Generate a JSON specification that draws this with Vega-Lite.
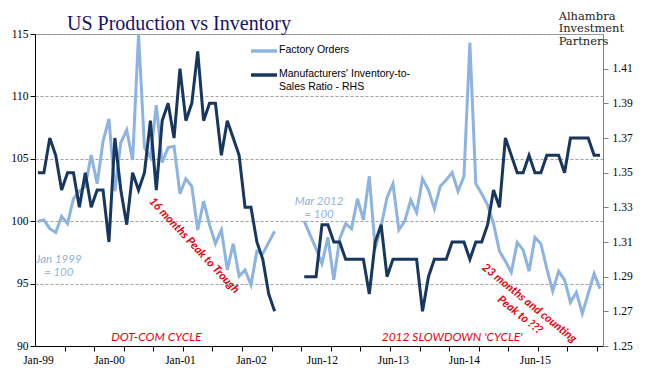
{
  "$schema": "https://vega.github.io/schema/vega-lite/v6.json",
  "width": 568,
  "height": 312,
  "autosize": "none",
  "padding": {"left": 35, "top": 34, "right": 46, "bottom": 46},
  "background": "white",
  "title": {"text": "US Production vs Inventory", "anchor": "start", "frame": "group", "dx": 32, "dy": 45, "offset": 6, "baseline": "alphabetic", "font": "Liberation Serif", "fontSize": 20, "fontWeight": "normal", "color": "#13136B"},
  "config": {"view": {"stroke": "#8c8c8c", "strokeWidth": 1}},
  "datasets": {
    "main": [
      {"m": "Jan-99", "cycle": "dotcom", "orders": 100.0, "ratio": 1.35},
      {"m": "Feb-99", "cycle": "dotcom", "orders": 100.1, "ratio": 1.35},
      {"m": "Mar-99", "cycle": "dotcom", "orders": 99.4, "ratio": 1.37},
      {"m": "Apr-99", "cycle": "dotcom", "orders": 99.1, "ratio": 1.36},
      {"m": "May-99", "cycle": "dotcom", "orders": 100.4, "ratio": 1.34},
      {"m": "Jun-99", "cycle": "dotcom", "orders": 99.8, "ratio": 1.35},
      {"m": "Jul-99", "cycle": "dotcom", "orders": 101.8, "ratio": 1.35},
      {"m": "Aug-99", "cycle": "dotcom", "orders": 102.4, "ratio": 1.33},
      {"m": "Sep-99", "cycle": "dotcom", "orders": 102.8, "ratio": 1.35},
      {"m": "Oct-99", "cycle": "dotcom", "orders": 105.3, "ratio": 1.33},
      {"m": "Nov-99", "cycle": "dotcom", "orders": 103.0, "ratio": 1.34},
      {"m": "Dec-99", "cycle": "dotcom", "orders": 106.4, "ratio": 1.34},
      {"m": "Jan-00", "cycle": "dotcom", "orders": 108.2, "ratio": 1.31},
      {"m": "Feb-00", "cycle": "dotcom", "orders": 102.4, "ratio": 1.37},
      {"m": "Mar-00", "cycle": "dotcom", "orders": 106.3, "ratio": 1.34},
      {"m": "Apr-00", "cycle": "dotcom", "orders": 107.3, "ratio": 1.32},
      {"m": "May-00", "cycle": "dotcom", "orders": 104.9, "ratio": 1.35},
      {"m": "Jun-00", "cycle": "dotcom", "orders": 115.0, "ratio": 1.34},
      {"m": "Jul-00", "cycle": "dotcom", "orders": 105.9, "ratio": 1.35},
      {"m": "Aug-00", "cycle": "dotcom", "orders": 105.1, "ratio": 1.38},
      {"m": "Sep-00", "cycle": "dotcom", "orders": 109.3, "ratio": 1.34},
      {"m": "Oct-00", "cycle": "dotcom", "orders": 104.7, "ratio": 1.38},
      {"m": "Nov-00", "cycle": "dotcom", "orders": 105.9, "ratio": 1.39},
      {"m": "Dec-00", "cycle": "dotcom", "orders": 106.0, "ratio": 1.37},
      {"m": "Jan-01", "cycle": "dotcom", "orders": 102.2, "ratio": 1.41},
      {"m": "Feb-01", "cycle": "dotcom", "orders": 103.4, "ratio": 1.38},
      {"m": "Mar-01", "cycle": "dotcom", "orders": 102.8, "ratio": 1.39},
      {"m": "Apr-01", "cycle": "dotcom", "orders": 99.3, "ratio": 1.42},
      {"m": "May-01", "cycle": "dotcom", "orders": 101.6, "ratio": 1.38},
      {"m": "Jun-01", "cycle": "dotcom", "orders": 99.7, "ratio": 1.39},
      {"m": "Jul-01", "cycle": "dotcom", "orders": 98.2, "ratio": 1.39},
      {"m": "Aug-01", "cycle": "dotcom", "orders": 99.3, "ratio": 1.36},
      {"m": "Sep-01", "cycle": "dotcom", "orders": 96.1, "ratio": 1.38},
      {"m": "Oct-01", "cycle": "dotcom", "orders": 98.2, "ratio": 1.37},
      {"m": "Nov-01", "cycle": "dotcom", "orders": 95.6, "ratio": 1.36},
      {"m": "Dec-01", "cycle": "dotcom", "orders": 96.1, "ratio": 1.33},
      {"m": "Jan-02", "cycle": "dotcom", "orders": 94.9, "ratio": 1.33},
      {"m": "Feb-02", "cycle": "dotcom", "orders": 97.6, "ratio": 1.31},
      {"m": "Mar-02", "cycle": "dotcom", "orders": 97.4, "ratio": 1.30},
      {"m": "Apr-02", "cycle": "dotcom", "orders": 98.3, "ratio": 1.28},
      {"m": "May-02", "cycle": "dotcom", "orders": 99.2, "ratio": 1.27},
      {"m": "Mar-12", "cycle": "slowdown", "orders": 100.0, "ratio": 1.29},
      {"m": "Apr-12", "cycle": "slowdown", "orders": 98.9, "ratio": 1.29},
      {"m": "May-12", "cycle": "slowdown", "orders": 97.8, "ratio": 1.29},
      {"m": "Jun-12", "cycle": "slowdown", "orders": 96.6, "ratio": 1.32},
      {"m": "Jul-12", "cycle": "slowdown", "orders": 98.7, "ratio": 1.32},
      {"m": "Aug-12", "cycle": "slowdown", "orders": 95.3, "ratio": 1.31},
      {"m": "Sep-12", "cycle": "slowdown", "orders": 98.6, "ratio": 1.31},
      {"m": "Oct-12", "cycle": "slowdown", "orders": 99.8, "ratio": 1.30},
      {"m": "Nov-12", "cycle": "slowdown", "orders": 99.4, "ratio": 1.30},
      {"m": "Dec-12", "cycle": "slowdown", "orders": 101.8, "ratio": 1.30},
      {"m": "Jan-13", "cycle": "slowdown", "orders": 100.1, "ratio": 1.30},
      {"m": "Feb-13", "cycle": "slowdown", "orders": 103.6, "ratio": 1.28},
      {"m": "Mar-13", "cycle": "slowdown", "orders": 97.8, "ratio": 1.31},
      {"m": "Apr-13", "cycle": "slowdown", "orders": 99.6, "ratio": 1.32},
      {"m": "May-13", "cycle": "slowdown", "orders": 101.9, "ratio": 1.29},
      {"m": "Jun-13", "cycle": "slowdown", "orders": 103.0, "ratio": 1.30},
      {"m": "Jul-13", "cycle": "slowdown", "orders": 99.3, "ratio": 1.30},
      {"m": "Aug-13", "cycle": "slowdown", "orders": 100.0, "ratio": 1.30},
      {"m": "Sep-13", "cycle": "slowdown", "orders": 101.7, "ratio": 1.30},
      {"m": "Oct-13", "cycle": "slowdown", "orders": 100.7, "ratio": 1.30},
      {"m": "Nov-13", "cycle": "slowdown", "orders": 103.4, "ratio": 1.27},
      {"m": "Dec-13", "cycle": "slowdown", "orders": 102.5, "ratio": 1.29},
      {"m": "Jan-14", "cycle": "slowdown", "orders": 101.0, "ratio": 1.30},
      {"m": "Feb-14", "cycle": "slowdown", "orders": 102.8, "ratio": 1.30},
      {"m": "Mar-14", "cycle": "slowdown", "orders": 103.3, "ratio": 1.30},
      {"m": "Apr-14", "cycle": "slowdown", "orders": 103.9, "ratio": 1.31},
      {"m": "May-14", "cycle": "slowdown", "orders": 102.4, "ratio": 1.31},
      {"m": "Jun-14", "cycle": "slowdown", "orders": 103.6, "ratio": 1.31},
      {"m": "Jul-14", "cycle": "slowdown", "orders": 114.3, "ratio": 1.30},
      {"m": "Aug-14", "cycle": "slowdown", "orders": 103.0, "ratio": 1.31},
      {"m": "Sep-14", "cycle": "slowdown", "orders": 102.2, "ratio": 1.31},
      {"m": "Oct-14", "cycle": "slowdown", "orders": 101.3, "ratio": 1.32},
      {"m": "Nov-14", "cycle": "slowdown", "orders": 99.8, "ratio": 1.34},
      {"m": "Dec-14", "cycle": "slowdown", "orders": 97.6, "ratio": 1.33},
      {"m": "Jan-15", "cycle": "slowdown", "orders": 96.8, "ratio": 1.37},
      {"m": "Feb-15", "cycle": "slowdown", "orders": 95.9, "ratio": 1.36},
      {"m": "Mar-15", "cycle": "slowdown", "orders": 98.3, "ratio": 1.35},
      {"m": "Apr-15", "cycle": "slowdown", "orders": 97.7, "ratio": 1.35},
      {"m": "May-15", "cycle": "slowdown", "orders": 96.0, "ratio": 1.36},
      {"m": "Jun-15", "cycle": "slowdown", "orders": 98.7, "ratio": 1.35},
      {"m": "Jul-15", "cycle": "slowdown", "orders": 98.2, "ratio": 1.35},
      {"m": "Aug-15", "cycle": "slowdown", "orders": 96.2, "ratio": 1.36},
      {"m": "Sep-15", "cycle": "slowdown", "orders": 94.4, "ratio": 1.36},
      {"m": "Oct-15", "cycle": "slowdown", "orders": 96.0, "ratio": 1.36},
      {"m": "Nov-15", "cycle": "slowdown", "orders": 95.3, "ratio": 1.35},
      {"m": "Dec-15", "cycle": "slowdown", "orders": 93.5, "ratio": 1.37},
      {"m": "Jan-16", "cycle": "slowdown", "orders": 94.3, "ratio": 1.37},
      {"m": "Feb-16", "cycle": "slowdown", "orders": 92.6, "ratio": 1.37},
      {"m": "Mar-16", "cycle": "slowdown", "orders": 94.2, "ratio": 1.37},
      {"m": "Apr-16", "cycle": "slowdown", "orders": 95.8, "ratio": 1.36},
      {"m": "May-16", "cycle": "slowdown", "orders": 94.6, "ratio": 1.36}
    ],
    "notes": [
      {"m": "Apr-99", "v": 96.9, "text": "Jan 1999\n= 100", "kind": "blue"},
      {"m": "May-12", "v": 101.5, "text": "Mar 2012\n= 100", "kind": "blue"},
      {"m": "Sep-00", "v": 90.7, "text": "DOT-COM CYCLE", "kind": "cycle"},
      {"m": "Apr-14", "v": 90.75, "text": "2012 SLOWDOWN 'CYCLE'", "kind": "cycle"},
      {"m": "Mar-01", "v": 98.2, "text": "16 months Peak to Trough", "kind": "drop1"},
      {"m": "May-15", "v": 93.4, "text": "23 months and counting\nPeak to ???", "kind": "drop2"},
      {"m": "Oct-15", "v": 116.85, "text": "Alhambra\nInvestment\nPartners", "kind": "logo"}
    ]
  },
  "encoding": {
    "x": {
      "field": "m",
      "type": "ordinal",
      "sort": null,
      "title": null,
      "scale": {
        "type": "point",
        "padding": 0.5,
        "domain": ["Jan-99","Feb-99","Mar-99","Apr-99","May-99","Jun-99","Jul-99","Aug-99","Sep-99","Oct-99","Nov-99","Dec-99",
                   "Jan-00","Feb-00","Mar-00","Apr-00","May-00","Jun-00","Jul-00","Aug-00","Sep-00","Oct-00","Nov-00","Dec-00",
                   "Jan-01","Feb-01","Mar-01","Apr-01","May-01","Jun-01","Jul-01","Aug-01","Sep-01","Oct-01","Nov-01","Dec-01",
                   "Jan-02","Feb-02","Mar-02","Apr-02","May-02","gap1","gap2","gap3","gap4",
                   "Mar-12","Apr-12","May-12","Jun-12","Jul-12","Aug-12","Sep-12","Oct-12","Nov-12","Dec-12",
                   "Jan-13","Feb-13","Mar-13","Apr-13","May-13","Jun-13","Jul-13","Aug-13","Sep-13","Oct-13","Nov-13","Dec-13",
                   "Jan-14","Feb-14","Mar-14","Apr-14","May-14","Jun-14","Jul-14","Aug-14","Sep-14","Oct-14","Nov-14","Dec-14",
                   "Jan-15","Feb-15","Mar-15","Apr-15","May-15","Jun-15","Jul-15","Aug-15","Sep-15","Oct-15","Nov-15","Dec-15",
                   "Jan-16","Feb-16","Mar-16","Apr-16","May-16"]
      },
      "axis": {
        "values": ["Jan-99","Jun-99","Nov-99","Jan-00","Apr-00","Sep-00","Jan-01","Feb-01","Jul-01","Dec-01","Jan-02","May-02","Mar-12","Jun-12","Aug-12","Jan-13","Jun-13","Nov-13","Apr-14","Jun-14","Sep-14","Feb-15","Jun-15","Jul-15","Dec-15","May-16"],
        "labelExpr": "indexof(['Jan-99','Jan-00','Jan-01','Jan-02','Jun-12','Jun-13','Jun-14','Jun-15'], datum.value) >= 0 ? datum.value : ''",
        "tickOpacity": {"condition": {"test": "indexof(['Jun-99','Nov-99','Apr-00','Sep-00','Feb-01','Jul-01','Dec-01','May-02','Mar-12','Aug-12','Jan-13','Jun-13','Nov-13','Apr-14','Sep-14','Feb-15','Jul-15','Dec-15','May-16'], datum.value) >= 0", "value": 1}, "value": 0},
        "tickOffset": -2.96,
        "labelOffset": 2.96,
        "tickSize": 5,
        "tickColor": "#000000",
        "domainColor": "#000000",
        "labelAngle": 0,
        "labelOverlap": false,
        "labelFont": "Liberation Serif",
        "labelFontSize": 11.5,
        "labelColor": "#000000",
        "labelPadding": 3,
        "grid": false
      }
    }
  },
  "layer": [
    {
      "layer": [
        {
          "data": {"name": "main"},
          "mark": {"type": "line", "strokeWidth": 3, "strokeJoin": "miter"},
          "encoding": {
            "y": {
              "field": "orders", "type": "quantitative", "title": null,
              "scale": {"domain": [90, 115], "nice": false, "zero": false},
              "axis": {"orient": "left", "values": [90, 95, 100, 105, 110, 115], "grid": true, "gridDash": [3, 2], "gridColor": "#a0a0a0", "tickSize": 5, "tickColor": "#000000", "domainColor": "#000000", "labelFont": "Liberation Serif", "labelFontSize": 11.5, "labelColor": "#000000", "labelPadding": 2}
            },
            "detail": {"field": "cycle"},
            "color": {
              "datum": "Factory Orders",
              "scale": {"domain": ["Factory Orders", "Manufacturers' Inventory-to-Sales Ratio - RHS"], "range": ["#8DB3E2", "#17375E"]},
              "legend": {
                "orient": "none", "legendX": 214, "legendY": 2, "title": null, "padding": 0,
                "symbolType": "stroke", "symbolSize": 676, "symbolStrokeWidth": 3.5,
                "labelFont": "Liberation Sans", "labelFontSize": 10.5, "labelColor": "#000000", "labelOffset": 0, "labelLimit": 300,
                "labelBaseline": "top", "rowPadding": 2,
                "labelExpr": "datum.label == 'Factory Orders' ? datum.label : [\"Manufacturers' Inventory-to-\", 'Sales Ratio - RHS']",
                "encode": {"labels": {"update": {"dy": {"value": -6}, "lineHeight": {"value": 13}}}}
              }
            }
          }
        },
        {
          "data": {"name": "notes"},
          "transform": [{"filter": "datum.kind == 'blue'"}],
          "mark": {"type": "text", "dx": 3, "lineBreak": "\n", "lineHeight": 13, "font": "Lato", "fontStyle": "italic", "fontSize": 11.5, "color": "#8DB3E2", "align": "center", "baseline": "middle"},
          "encoding": {"y": {"field": "v", "type": "quantitative", "title": null}, "text": {"field": "text"}}
        },
        {
          "data": {"name": "notes"},
          "transform": [{"filter": "datum.kind == 'cycle'"}],
          "mark": {"type": "text", "font": "Lato", "fontStyle": "italic", "fontSize": 12, "color": "#E8000B", "align": "center", "baseline": "middle"},
          "encoding": {"y": {"field": "v", "type": "quantitative", "title": null}, "text": {"field": "text"}}
        },
        {
          "data": {"name": "notes"},
          "transform": [{"filter": "datum.kind == 'drop1'"}],
          "mark": {"type": "text", "dx": 3, "angle": 47, "font": "Lato", "fontStyle": "italic", "fontWeight": "bold", "fontSize": 11.5, "color": "#E8000B", "align": "center", "baseline": "middle"},
          "encoding": {"y": {"field": "v", "type": "quantitative", "title": null}, "text": {"field": "text"}}
        },
        {
          "data": {"name": "notes"},
          "transform": [{"filter": "datum.kind == 'drop2'"}],
          "mark": {"type": "text", "angle": 39, "lineBreak": "\n", "lineHeight": 15, "font": "Lato", "fontStyle": "italic", "fontWeight": "bold", "fontSize": 11.5, "color": "#E8000B", "align": "center", "baseline": "middle"},
          "encoding": {"y": {"field": "v", "type": "quantitative", "title": null}, "text": {"field": "text"}}
        },
        {
          "data": {"name": "notes"},
          "transform": [{"filter": "datum.kind == 'logo'"}],
          "mark": {"type": "text", "lineBreak": "\n", "lineHeight": 12.5, "font": "DejaVu Serif", "fontSize": 11.5, "color": "#222222", "align": "left", "baseline": "top"},
          "encoding": {"y": {"field": "v", "type": "quantitative", "title": null}, "text": {"field": "text"}}
        }
      ]
    },
    {
      "data": {"name": "main"},
      "mark": {"type": "line", "strokeWidth": 3, "strokeJoin": "miter"},
      "encoding": {
        "y": {
          "field": "ratio", "type": "quantitative", "title": null,
          "scale": {"domain": [1.25, 1.43], "nice": false, "zero": false},
          "axis": {"orient": "right", "values": [1.25, 1.27, 1.29, 1.31, 1.33, 1.35, 1.37, 1.39, 1.41], "format": ".2f", "grid": false, "tickSize": 5, "tickColor": "#808080", "domainColor": "#808080", "labelFont": "Liberation Serif", "labelFontSize": 11.5, "labelColor": "#000000", "labelPadding": 4}
        },
        "detail": {"field": "cycle"},
        "color": {"datum": "Manufacturers' Inventory-to-Sales Ratio - RHS"}
      }
    }
  ],
  "resolve": {"scale": {"y": "independent"}}
}
